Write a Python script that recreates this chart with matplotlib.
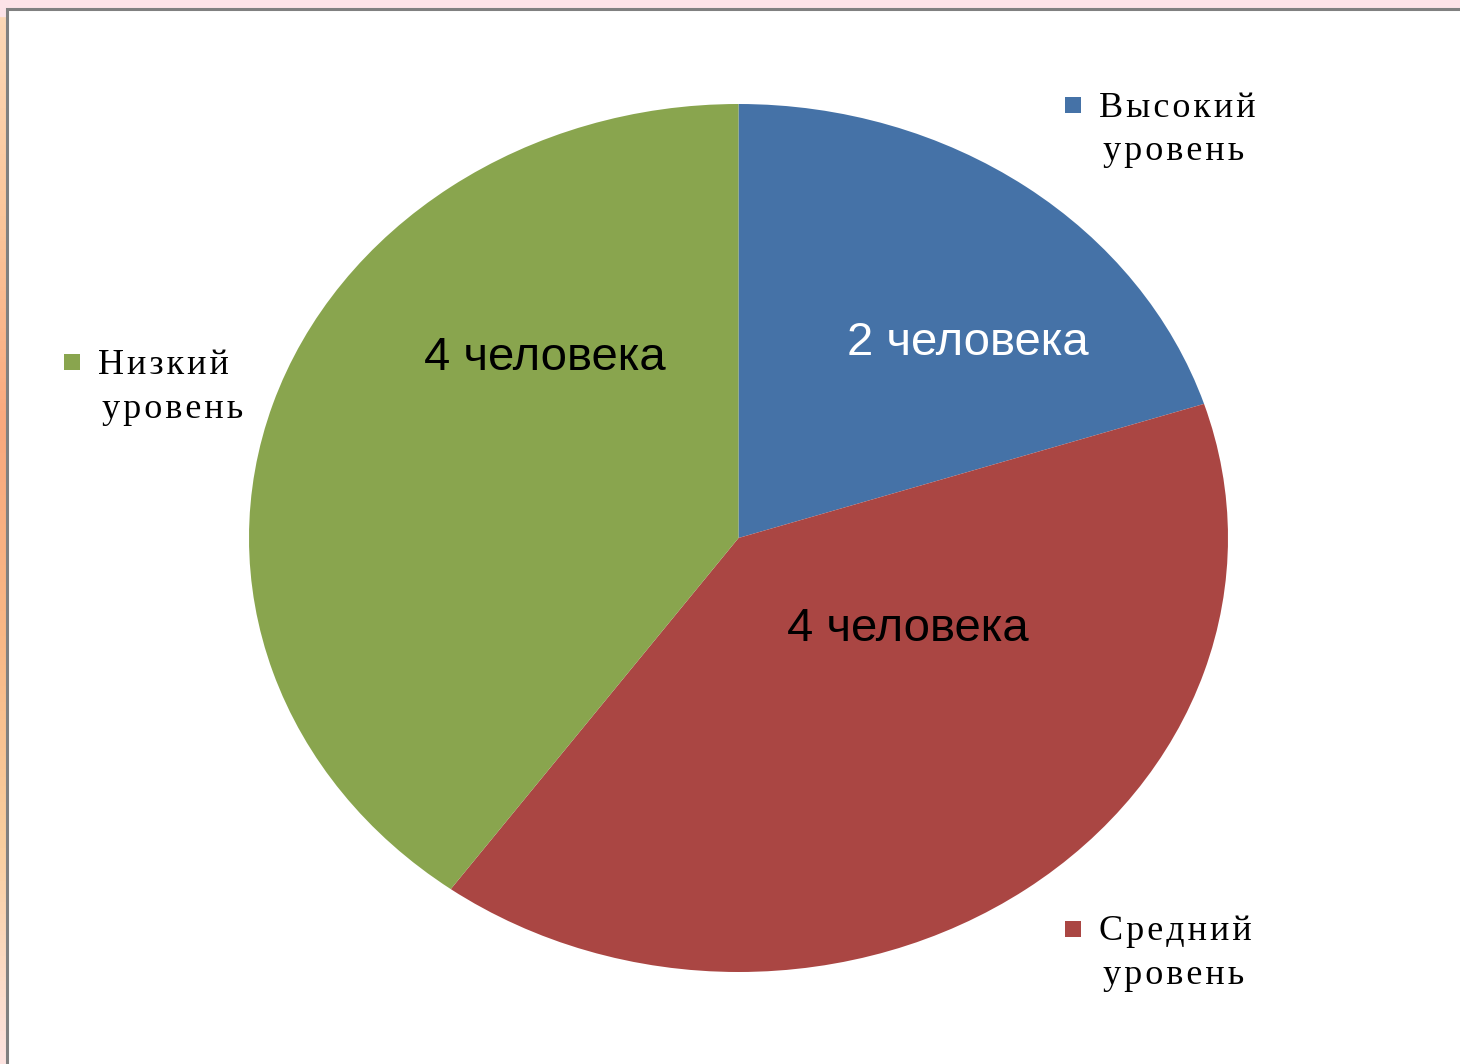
import numpy as np
import matplotlib
matplotlib.use("Agg")
import matplotlib.pyplot as plt
from matplotlib.patches import Rectangle
from matplotlib.colors import LinearSegmentedColormap

# Data
levels = ["Высокий\nуровень", "Средний\nуровень", "Низкий\nуровень"]
people = [2, 4, 4]
value_labels = ["2 человека", "4 человека", "4 человека"]
colors = ["#4572A7", "#AA4643", "#89A54E"]
label_colors = ["white", "black", "black"]


def spaced(word):
    # the original legend text is letter-spaced
    return "\u200a".join(word)


fig = plt.figure(figsize=(14.6, 10.64), dpi=100)

# slide background: pink top, warm gradient on the left edge
bg = fig.add_axes([0, 0, 1, 1])
bg.set_axis_off()
grad = LinearSegmentedColormap.from_list(
    "slide", ["#FDE3E0", "#F9CFA0", "#F8B886", "#F9A97E", "#FBC79C", "#FDD9B8"])
bg.imshow(np.linspace(1, 0, 256).reshape(-1, 1), cmap=grad, aspect="auto",
          extent=[0, 1, 0, 1], zorder=0)
bg.add_patch(Rectangle((0, 0.985), 1, 0.015, color="#FDE3E8", zorder=1))
bg.add_patch(Rectangle((7 / 1460, -0.01), 1.0, 1.01 - 9 / 1064, facecolor="white",
                       edgecolor="#808080", linewidth=2.2, zorder=2))
bg.set_xlim(0, 1)
bg.set_ylim(0, 1)

# pie (stretched ellipse like the original)
ax = fig.add_axes([249 / 1460, 92 / 1064, 979 / 1460, 868 / 1064])
wedges, _ = ax.pie(people, colors=colors, startangle=90, counterclock=False,
                   radius=1.0, wedgeprops=dict(linewidth=0))
ax.set_aspect("auto")
ax.set_xlim(-1, 1)
ax.set_ylim(-1, 1)
ax.set_axis_off()

label_pos = [(0.469, 0.45), (0.345, -0.21), (-0.396, 0.415)]
for (x, y), txt, c in zip(label_pos, value_labels, label_colors):
    ax.text(x, y, txt, ha="center", va="center", fontsize=34,
            family="Liberation Sans", color=c)

# legend entries placed around the pie
legend_pos = [(1073, 105), (1073, 929), (72, 362)]
for (px, py), lab, c in zip(legend_pos, levels, colors):
    fx, fy = px / 1460, 1 - py / 1064
    fig.add_artist(Rectangle((fx - 8 / 1460, fy - 8 / 1064), 16 / 1460, 16 / 1064,
                             facecolor=c, edgecolor="none",
                             transform=fig.transFigure))
    first, second = lab.split("\n")
    fig.text(fx + 26 / 1460, fy - 3 / 1064, spaced(first), ha="left", va="center",
             fontsize=26, family="Liberation Serif")
    fig.text(fx + 30 / 1460, fy - 47 / 1064, spaced(second), ha="left", va="center",
             fontsize=26, family="Liberation Serif")

fig.savefig("out.png", dpi=100)
